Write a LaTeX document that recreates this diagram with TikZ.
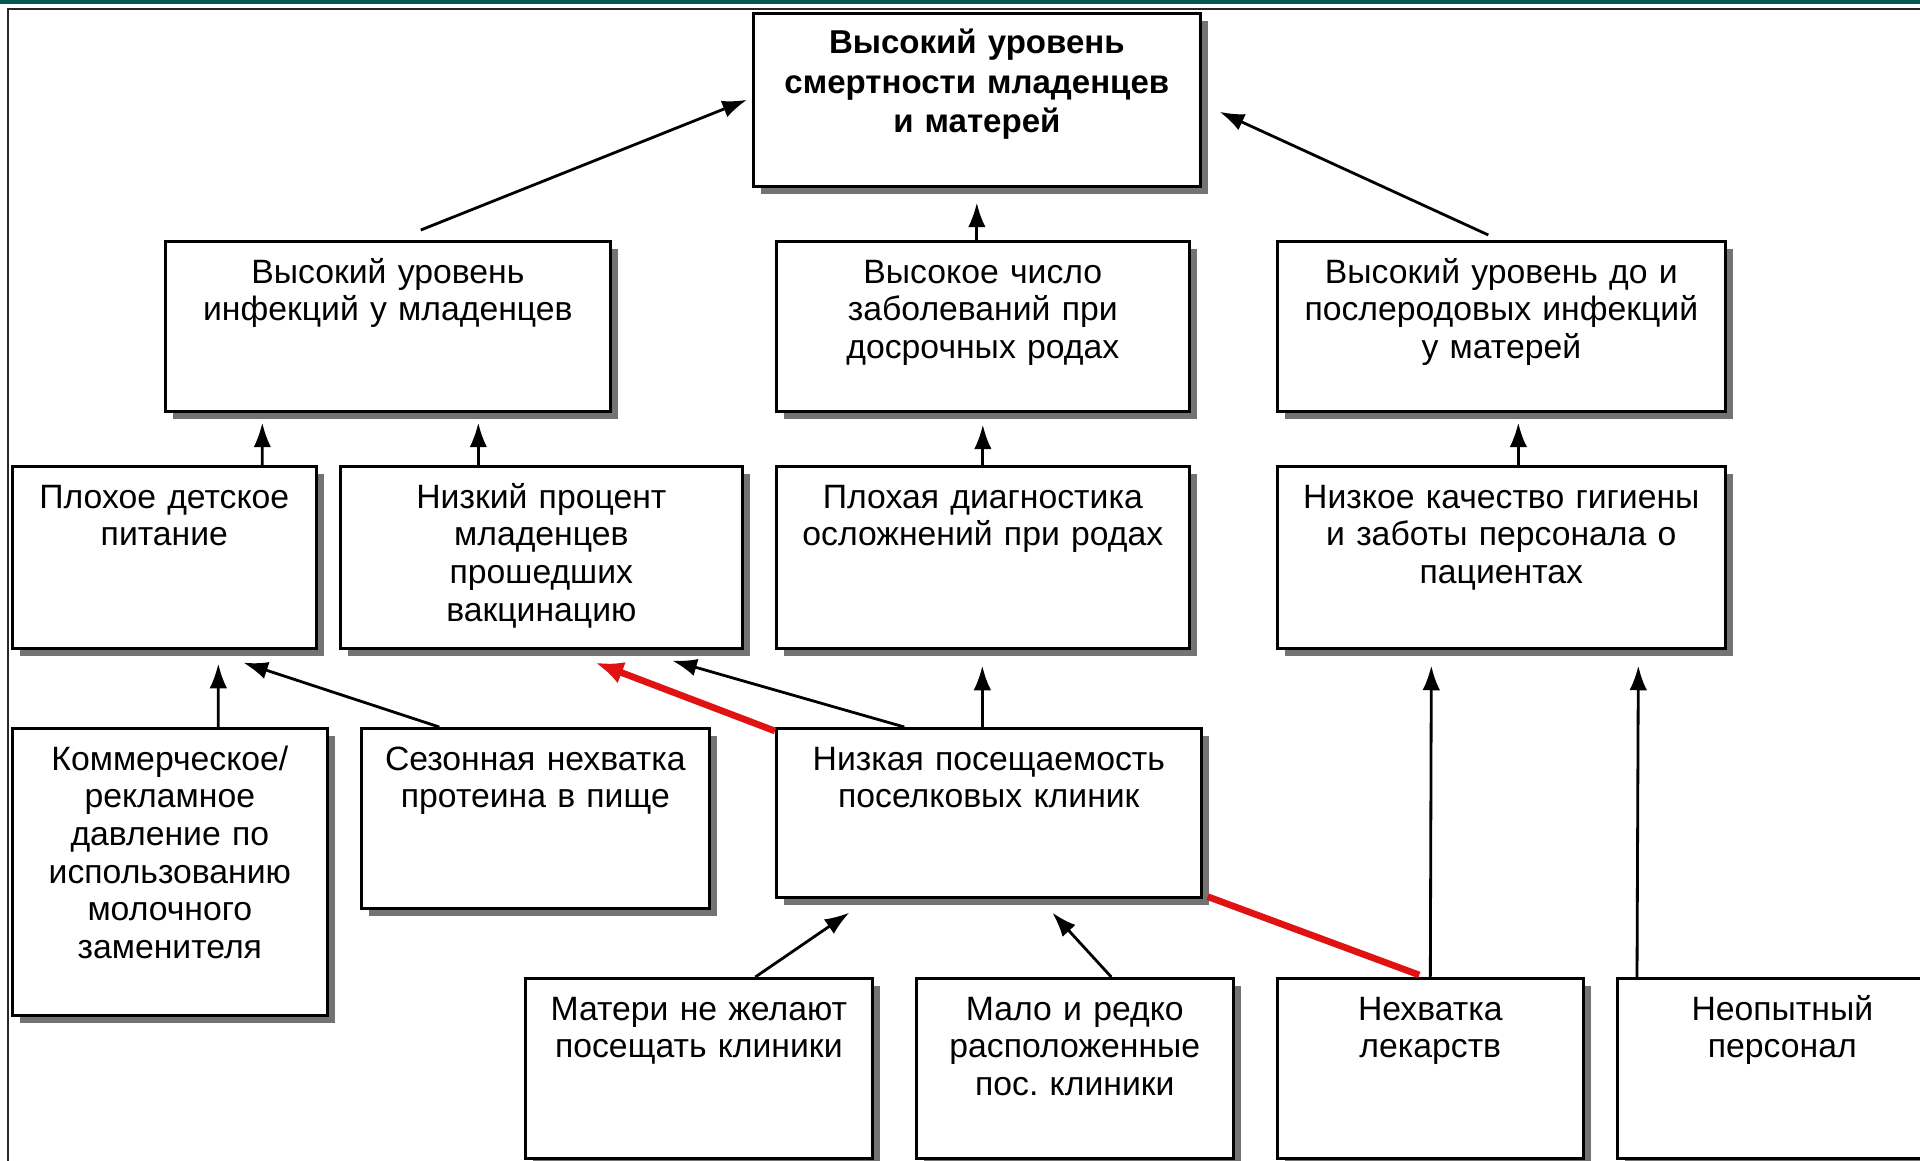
\documentclass[tikz,border=0pt]{standalone}
\usepackage{fontspec}
\setmainfont{Liberation Sans}
\usepackage{tikz}
\usetikzlibrary{arrows.meta, shadows}
\definecolor{topbar}{RGB}{4,88,84}
\definecolor{linkred}{RGB}{224,18,18}
\frenchspacing
\tikzstyle{box} = [draw, line width=0.75pt, fill=white, anchor=north west, inner sep=0pt, align=center, text height=0.42cm, font=\fontsize{9.6}{10.7}\selectfont, drop shadow={shadow xshift=0.08cm, shadow yshift=-0.08cm, fill=black!55, opacity=1}]
\tikzstyle{mainbox} = [box, text height=0.40cm, font=\fontsize{9.4}{11.3}\selectfont\bfseries]
\tikzstyle{arrow} = [line width=0.8pt,->,>={Latex[length=7pt,width=5pt]}]
\tikzstyle{redarrow} = [line width=1.9pt,draw=linkred,->,>={Latex[length=8pt,width=6.5pt]}]

\begin{document}
\begin{tikzpicture}
\useasboundingbox (0,0) rectangle (19.2,-11.6);
\fill[topbar] (0,0) rectangle (19.2,-0.035);
\draw[line width=0.7pt, black!85] (0.08,-0.09) rectangle (19.6,-11.9);

% problem
\node[mainbox, text width=4.47cm, text depth=1.33cm] (top) at (7.52,-0.12) {Высокий уровень\\смертности младенцев\\и матерей};

% effects of the second level
\node[box, text width=4.45cm, text depth=1.28cm] (b1) at (1.64,-2.40) {Высокий уровень\\инфекций у младенцев};
\node[box, text width=4.13cm, text depth=1.28cm] (b2) at (7.75,-2.40) {Высокое число\\заболеваний при\\досрочных родах};
\node[box, text width=4.48cm, text depth=1.28cm] (b3) at (12.76,-2.40) {Высокий уровень до и\\послеродовых инфекций\\у матерей};

\node[box, text width=3.04cm, text depth=1.40cm] (c1) at (0.11,-4.65) {Плохое детское\\питание};
\node[box, text width=4.02cm, text depth=1.40cm] (c2) at (3.39,-4.65) {Низкий процент\\младенцев\\прошедших\\вакцинацию};
\node[box, text width=4.13cm, text depth=1.40cm] (c3) at (7.75,-4.65) {Плохая диагностика\\осложнений при родах};
\node[box, text width=4.48cm, text depth=1.40cm] (c4) at (12.76,-4.65) {Низкое качество гигиены\\и заботы персонала о\\пациентах};

% causes
\node[box, text width=3.15cm, text depth=2.45cm] (d1) at (0.11,-7.27) {Коммерческое/\\рекламное\\давление по\\использованию\\молочного\\заменителя};
\node[box, text width=3.48cm, text depth=1.38cm] (d2) at (3.60,-7.27) {Сезонная нехватка\\протеина в пище};
\node[box, text width=4.25cm, text depth=1.27cm] (d3) at (7.75,-7.27) {Низкая посещаемость\\поселковых клиник};

\node[box, text width=3.47cm, text depth=1.38cm] (e1) at (5.24,-9.77) {Матери не желают\\посещать клиники};
\node[box, text width=3.17cm, text depth=1.38cm] (e2) at (9.15,-9.77) {Мало и редко\\расположенные\\пос. клиники};
\node[box, text width=3.06cm, text depth=1.38cm] (e3) at (12.76,-9.77) {Нехватка\\лекарств};
\node[box, text width=3.30cm, text depth=1.38cm] (e4) at (16.16,-9.77) {Неопытный\\персонал};

% links
\draw[arrow] ([xshift=0.33cm,yshift=0.10cm]b1.north) -- ([xshift=-0.05cm]top.west);
\draw[arrow] (b2.north -| top.south) -- ([yshift=-0.15cm]top.south);
\draw[arrow] ([xshift=-0.13cm,yshift=0.05cm]b3.north) -- ([xshift=0.18cm,yshift=-0.12cm]top.east);

\draw[arrow] ([xshift=0.98cm]c1.north) -- ([xshift=-1.255cm,yshift=-0.10cm]b1.south);
\draw[arrow] ([xshift=-0.63cm]c2.north) -- ([xshift=0.905cm,yshift=-0.10cm]b1.south);
\draw[arrow] (c3.north) -- ([yshift=-0.12cm]b2.south);
\draw[arrow] ([xshift=0.17cm]c4.north) -- ([xshift=0.17cm,yshift=-0.10cm]b3.south);

\draw[arrow] ([xshift=0.485cm]d1.north) -- ([xshift=0.54cm,yshift=-0.14cm]c1.south);
\draw[arrow] ([xshift=-0.96cm]d2.north) -- ([xshift=0.79cm,yshift=-0.13cm]c1.south);
\draw[redarrow] ([yshift=-0.04cm]d3.north west) -- ([xshift=0.54cm,yshift=-0.13cm]c2.south);
\draw[arrow] ([xshift=-0.845cm]d3.north) -- ([xshift=1.31cm,yshift=-0.11cm]c2.south);
\draw[arrow] ([xshift=-0.065cm]d3.north) -- ([xshift=-0.005cm,yshift=-0.16cm]c3.south);

\draw[arrow] (e3.north) -- ([xshift=-0.70cm,yshift=-0.16cm]c4.south);
\draw[arrow] ([xshift=0.21cm]e4.north west) -- ([xshift=1.37cm,yshift=-0.16cm]c4.south);
\draw[arrow] ([xshift=0.565cm]e1.north) -- ([xshift=-1.395cm,yshift=-0.14cm]d3.south);
\draw[arrow] ([xshift=0.365cm]e2.north) -- ([xshift=0.635cm,yshift=-0.14cm]d3.south);
\draw[line width=1.9pt, linkred] ([xshift=-0.11cm,yshift=0.02cm]e3.north) -- ([xshift=0.05cm,yshift=0.02cm]d3.south east);
\end{tikzpicture}
\end{document}
